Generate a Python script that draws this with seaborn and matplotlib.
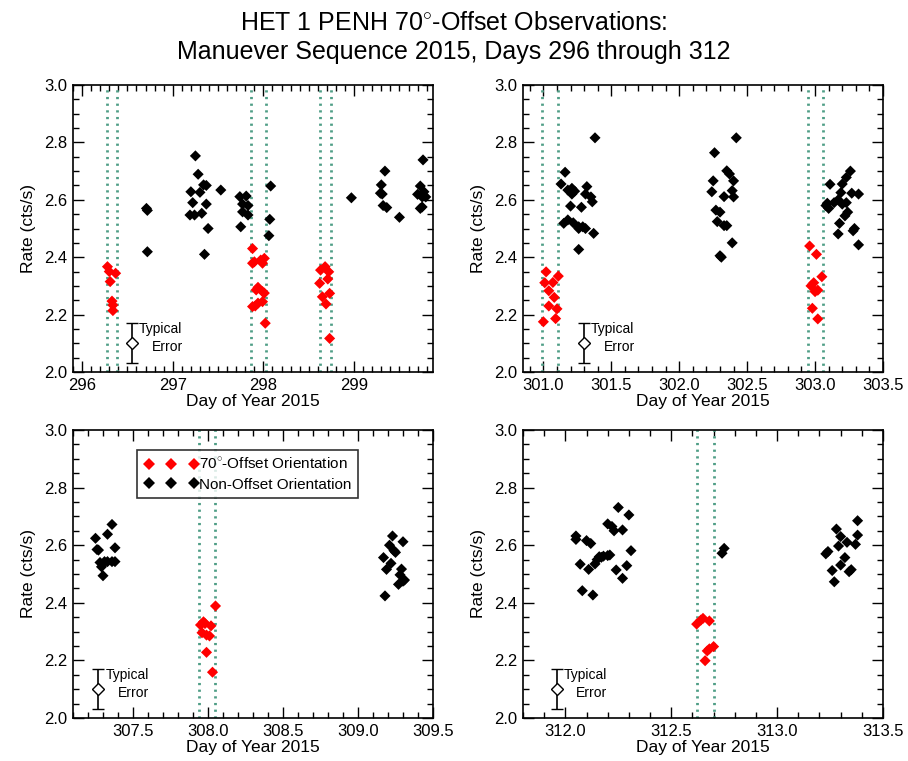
import numpy as np
import pandas as pd
import matplotlib
matplotlib.use("Agg")
import matplotlib.pyplot as plt
from matplotlib.lines import Line2D
from matplotlib.ticker import MultipleLocator
import seaborn as sns

# ---------------- data ----------------
# Panel 1 (days 296-299.9)
p1_red_day = [296.28, 296.30, 296.37, 296.31, 296.33, 296.34, 296.34,
              297.88, 297.88, 297.90, 297.97, 298.01, 297.99, 297.92, 297.99, 298.01, 297.94,
              297.88, 297.94, 297.99, 297.91, 298.02,
              298.63, 298.68, 298.72, 298.62, 298.71, 298.65, 298.73, 298.69, 298.73]
p1_red_rate = [2.367, 2.350, 2.344, 2.315, 2.247, 2.233, 2.214,
               2.430, 2.379, 2.384, 2.390, 2.396, 2.379, 2.286, 2.280, 2.275, 2.295,
               2.228, 2.240, 2.245, 2.230, 2.170,
               2.355, 2.367, 2.349, 2.309, 2.324, 2.262, 2.274, 2.237, 2.117]
p1_blk_day = [296.71, 296.72, 296.72,
              297.25, 297.28, 297.20, 297.30, 297.34, 297.37, 297.22, 297.37, 297.19, 297.24,
              297.32, 297.39, 297.35, 297.53,
              297.74, 297.81, 297.77, 297.83, 297.77, 297.83, 297.75,
              298.08, 298.07, 298.06,
              298.97, 299.34, 299.30, 299.29, 299.31, 299.32, 299.36, 299.50,
              299.76, 299.73, 299.77, 299.70, 299.75, 299.79, 299.73, 299.75]
p1_blk_rate = [2.570, 2.563, 2.419,
               2.753, 2.689, 2.628, 2.626, 2.652, 2.650, 2.590, 2.585, 2.547, 2.547,
               2.553, 2.500, 2.410, 2.634,
               2.611, 2.613, 2.585, 2.580, 2.558, 2.547, 2.506,
               2.648, 2.532, 2.475,
               2.607, 2.700, 2.652, 2.623, 2.620, 2.580, 2.573, 2.539,
               2.739, 2.648, 2.628, 2.619, 2.610, 2.610, 2.570, 2.575]
p1_vlines = [296.27, 296.38, 297.86, 298.03, 298.62, 298.74]

# Panel 2 (days 300.85-303.5)
p2_red_day = [301.02, 301.01, 301.04, 301.07, 301.08, 301.04, 301.10, 301.00, 301.09, 301.11,
              302.96, 303.01, 303.05, 302.99, 302.97, 303.00, 303.02, 302.98, 303.02]
p2_red_rate = [2.349, 2.311, 2.283, 2.312, 2.260, 2.230, 2.220, 2.175, 2.186, 2.334,
               2.439, 2.410, 2.332, 2.311, 2.300, 2.280, 2.285, 2.222, 2.185]
p2_blk_day = [301.16, 301.13, 301.18, 301.21, 301.23, 301.21, 301.20, 301.28, 301.15, 301.18,
              301.22, 301.26, 301.29, 301.26, 301.31, 301.26, 301.32, 301.31, 301.35, 301.36,
              301.37, 301.38,
              302.42, 302.26, 302.35, 302.37, 302.25, 302.40, 302.24, 302.39, 302.33, 302.40,
              302.27, 302.30, 302.28, 302.33, 302.35, 302.39, 302.30, 302.31,
              303.11, 303.09, 303.08, 303.10, 303.14, 303.17, 303.19, 303.20, 303.23, 303.26,
              303.20, 303.23, 303.27, 303.32, 303.22, 303.24, 303.18, 303.17, 303.28, 303.29,
              303.32]
p2_blk_rate = [2.696, 2.655, 2.634, 2.640, 2.630, 2.620, 2.578, 2.574, 2.518, 2.530,
               2.520, 2.506, 2.506, 2.500, 2.500, 2.427, 2.646, 2.620, 2.610, 2.593,
               2.483, 2.816,
               2.816, 2.764, 2.701, 2.690, 2.666, 2.666, 2.628, 2.632, 2.611, 2.610,
               2.564, 2.557, 2.524, 2.510, 2.510, 2.450, 2.405, 2.400,
               2.654, 2.588, 2.580, 2.570, 2.590, 2.600, 2.625, 2.655, 2.678, 2.700,
               2.585, 2.590, 2.623, 2.620, 2.544, 2.557, 2.518, 2.481, 2.492, 2.500,
               2.443]
p2_vlines = [300.99, 301.11, 302.95, 303.06]

# Panel 3 (days 307.1-309.5)
p3_red_day = [307.95, 307.97, 307.98, 307.96, 307.99, 308.01, 308.02, 308.05, 307.99, 308.03]
p3_red_rate = [2.323, 2.334, 2.328, 2.296, 2.288, 2.285, 2.320, 2.389, 2.228, 2.159]
p3_blk_day = [307.36, 307.33, 307.25, 307.27, 307.26, 307.38, 307.29, 307.31, 307.33, 307.36,
              307.38, 307.30, 307.28,
              309.23, 309.30, 309.21, 309.24, 309.25, 309.17, 309.22, 309.19, 309.29, 309.28,
              309.31, 309.27, 309.30, 309.18]
p3_blk_rate = [2.672, 2.638, 2.624, 2.583, 2.585, 2.591, 2.525, 2.543, 2.543, 2.543,
               2.543, 2.494, 2.540,
               2.632, 2.612, 2.600, 2.581, 2.575, 2.557, 2.537, 2.516, 2.517, 2.497,
               2.479, 2.464, 2.475, 2.424]
p3_vlines = [307.94, 308.05]

# Panel 4 (days 311.8-313.5)
p4_red_day = [312.62, 312.64, 312.65, 312.68, 312.67, 312.68, 312.70, 312.66]
p4_red_rate = [2.326, 2.340, 2.346, 2.337, 2.233, 2.240, 2.248, 2.199]
p4_blk_day = [312.05, 312.05, 312.10, 312.12, 312.07, 312.11, 312.08, 312.13, 312.14, 312.15,
              312.16, 312.18, 312.20, 312.21, 312.20, 312.22, 312.23, 312.25, 312.27, 312.30,
              312.24, 312.27, 312.29, 312.31, 312.17,
              312.74, 312.75,
              313.28, 313.24, 313.23, 313.30, 313.29, 313.33, 313.37, 313.38, 313.38, 313.32,
              313.30, 313.26, 313.34, 313.35, 313.27]
p4_blk_rate = [2.632, 2.620, 2.616, 2.606, 2.534, 2.516, 2.442, 2.427, 2.535, 2.550,
               2.560, 2.562, 2.564, 2.566, 2.674, 2.665, 2.650, 2.731, 2.653, 2.705,
               2.514, 2.485, 2.529, 2.581, 2.558,
               2.572, 2.589,
               2.656, 2.578, 2.570, 2.630, 2.597, 2.610, 2.603, 2.635, 2.685, 2.557,
               2.531, 2.512, 2.508, 2.515, 2.473]
p4_vlines = [312.62, 312.70]

xlims = [(295.9, 299.87), (300.85, 303.5), (307.1, 309.5), (311.8, 313.5)]
xmajor = [1.0, 0.5, 0.5, 0.5]
err_pos = [(296.55, 2.10), (301.30, 2.10), (307.27, 2.10), (311.96, 2.10)]
typical_err = 0.07

panels = [
    (p1_red_day, p1_red_rate, p1_blk_day, p1_blk_rate, p1_vlines),
    (p2_red_day, p2_red_rate, p2_blk_day, p2_blk_rate, p2_vlines),
    (p3_red_day, p3_red_rate, p3_blk_day, p3_blk_rate, p3_vlines),
    (p4_red_day, p4_red_rate, p4_blk_day, p4_blk_rate, p4_vlines),
]

# ---------------- plot ----------------
sns.set_style("ticks")
plt.rcParams['font.family'] = ['Liberation Sans', 'DejaVu Sans']
plt.rcParams['mathtext.fontset'] = 'custom'
plt.rcParams['mathtext.rm'] = 'Liberation Sans'
plt.rcParams['text.color'] = 'black'
plt.rcParams['axes.labelcolor'] = 'black'
plt.rcParams['xtick.color'] = 'black'
plt.rcParams['ytick.color'] = 'black'

fig = plt.figure(figsize=(9.08, 7.61), dpi=100)
W, H = 908, 761
boxes = [(73, 85, 433, 372), (523, 85, 883, 372), (73, 430, 433, 718), (523, 430, 883, 718)]
green = "#4f9e86"
palette = {"70-Offset": "#ff0000", "Non-Offset": "#000000"}

for i, (rd, rr, bd, br, vl) in enumerate(panels):
    l, t, r, b = boxes[i]
    ax = fig.add_axes([l / W, 1 - b / H, (r - l) / W, (b - t) / H])
    df = pd.DataFrame({
        "day": list(bd) + list(rd),
        "rate": list(br) + list(rr),
        "orient": ["Non-Offset"] * len(bd) + ["70-Offset"] * len(rd),
    })
    for v in vl:
        ax.axvline(v, color=green, linestyle=(0, (0.8, 1.6)), linewidth=2.0, zorder=1)
    sns.scatterplot(data=df, x="day", y="rate", hue="orient", palette=palette,
                    marker="D", s=32, linewidth=0, legend=False, ax=ax, zorder=3)
    ex, ey = err_pos[i]
    ax.errorbar([ex], [ey], yerr=typical_err, fmt="D", mfc="white", mec="black",
                ms=6, mew=1.0, ecolor="black", elinewidth=1.2, capsize=4, capthick=1.2, zorder=4)
    ax.annotate("Typical", (ex, ey), xytext=(5, 5), textcoords="offset points",
                fontsize=10, ha="left", va="bottom")
    ax.annotate("Error", (ex, ey), xytext=(14, -8), textcoords="offset points",
                fontsize=10, ha="left", va="bottom")
    ax.set_xlim(*xlims[i])
    ax.set_ylim(2.0, 3.0)
    ax.xaxis.set_major_locator(MultipleLocator(xmajor[i]))
    ax.xaxis.set_minor_locator(MultipleLocator(0.1))
    ax.yaxis.set_major_locator(MultipleLocator(0.2))
    ax.yaxis.set_minor_locator(MultipleLocator(0.05))
    if xmajor[i] == 1.0:
        ax.xaxis.set_major_formatter(matplotlib.ticker.FormatStrFormatter("%d"))
    else:
        ax.xaxis.set_major_formatter(matplotlib.ticker.FormatStrFormatter("%.1f"))
    ax.yaxis.set_major_formatter(matplotlib.ticker.FormatStrFormatter("%.1f"))
    ax.tick_params(which="both", direction="in", top=True, right=True, labelsize=12,
                   color="black", labelcolor="black", width=1.0)
    ax.tick_params(which="major", length=8, pad=4)
    ax.tick_params(which="minor", length=4)
    for s in ax.spines.values():
        s.set_linewidth(1.2)
        s.set_color("black")
    ax.set_xlabel("Day of Year 2015", fontsize=12.5, labelpad=1, color="black")
    ax.set_ylabel("Rate (cts/s)", fontsize=12.5, labelpad=6, color="black")

    if i == 2:
        handles = [
            Line2D([], [], marker="D", color="#ff0000", linestyle="none", markersize=6.5,
                   markeredgewidth=0),
            Line2D([], [], marker="D", color="black", linestyle="none", markersize=6.5,
                   markeredgewidth=0),
        ]
        leg = ax.legend(handles, ["70$^{\\circ}$-Offset Orientation", "Non-Offset Orientation"],
                        loc="upper left", bbox_to_anchor=(0.178, 0.93), numpoints=3,
                        handlelength=3.6, handletextpad=0.0, fontsize=11, frameon=True,
                        fancybox=False, edgecolor="black", borderpad=0.45, labelspacing=0.35,
                        borderaxespad=0)
        leg.get_frame().set_linewidth(1.2)
        for txt in leg.get_texts():
            txt.set_color("black")

fig.text(0.5, 1 - 23 / H, "HET 1 PENH 70$^{\\circ}$-Offset Observations:", ha="center",
         va="center", fontsize=18, color="black")
fig.text(0.5, 1 - 52 / H, "Manuever Sequence 2015, Days 296 through 312", ha="center",
         va="center", fontsize=18, color="black")

fig.savefig("out.png", dpi=100)
